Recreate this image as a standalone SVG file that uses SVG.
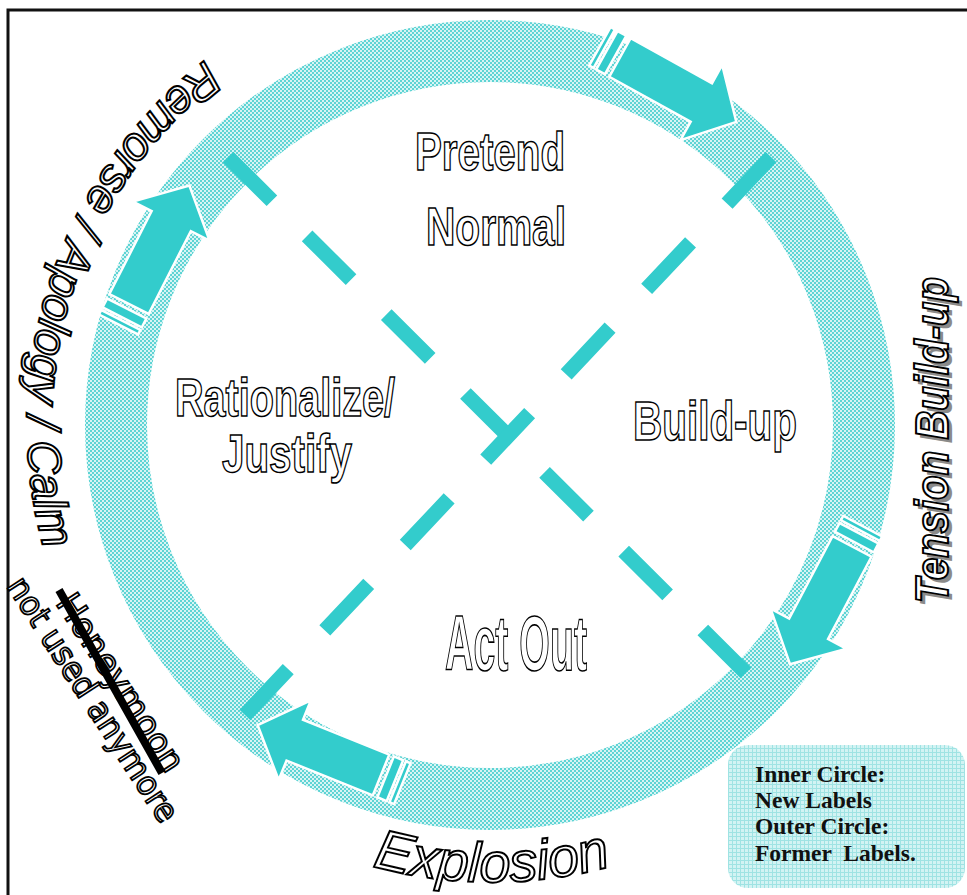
<svg xmlns="http://www.w3.org/2000/svg" xmlns:xlink="http://www.w3.org/1999/xlink" width="967" height="895" viewBox="0 0 967 895">
<defs>
<style>
.inner{font-family:"Liberation Sans",Arial,sans-serif;font-weight:bold;fill:#fff;stroke:#000;stroke-width:1.6;text-anchor:middle;}
.outer{font-family:"Liberation Sans",Arial,sans-serif;font-style:italic;fill:#fff;stroke:#000;stroke-width:2;}
.wide{font-family:"DejaVu Sans","Liberation Sans",sans-serif;fill:#fff;stroke:#000;stroke-width:1.8;}
.arr{fill:#33cccc;stroke:#fff;stroke-width:2.5;}
.dash{stroke:#33cccc;stroke-width:15;fill:none;}
.legend{font-family:"Liberation Serif","Times New Roman",serif;font-weight:bold;font-size:23.5px;fill:#111;}
</style>
<pattern id="ringPat" width="4" height="4" patternUnits="userSpaceOnUse">
<rect width="4" height="4" fill="#d8f4f4"/>
<rect width="2" height="2" fill="#5ed4d4"/>
<rect x="2" y="2" width="2" height="2" fill="#5ed4d4"/>
</pattern>
<pattern id="legPat" width="4" height="4" patternUnits="userSpaceOnUse">
<rect width="4" height="4" fill="#d2f3f3"/>
<rect width="4" height="1" fill="#9fe3e3"/>
<rect width="1" height="4" fill="#9fe3e3"/>
</pattern>
<g id="arrowShape">
<rect x="-23" y="-22" width="5" height="44"/>
<rect x="-15" y="-22" width="10" height="44"/>
<path d="M0,-22 H93 V-43 L133,0 L93,43 V22 H0 Z"/>
</g>
<path id="leftArc" d="M204.9,60.2 A463,463 0 0 0 54.9,583.3"/>
<path id="bottomArc" d="M262,820 A457,457 0 0 0 722,820"/>
</defs>
<rect width="967" height="895" fill="#fff"/>
<g id="frame"><path d="M8,895 V10 H967" fill="none" stroke="#111" stroke-width="3"/></g>
<g id="ring"><circle cx="490" cy="425" r="374" fill="none" stroke="url(#ringPat)" stroke-width="62"/></g>
<g id="connectors">
<line class="dash" x1="228" y1="157" x2="746" y2="673" stroke-dasharray="62 49.7"/>
<line class="dash" x1="771" y1="157" x2="245" y2="715" stroke-dasharray="64 53.3"/>
<use xlink:href="#arrowShape" class="arr" transform="translate(620,57.5) rotate(29)"/>
<use xlink:href="#arrowShape" class="arr" transform="translate(852,546.5) rotate(117.8)"/>
<use xlink:href="#arrowShape" class="arr" transform="translate(381,775) rotate(202)"/>
<use xlink:href="#arrowShape" class="arr" transform="translate(129,304) rotate(-63)"/>
</g>
<g id="node-pretend-normal">
<text class="inner" x="490" y="170" font-size="53" textLength="150" lengthAdjust="spacingAndGlyphs">Pretend</text>
<text class="inner" x="496" y="245" font-size="53" textLength="140" lengthAdjust="spacingAndGlyphs">Normal</text>
</g>
<g id="node-buildup">
<text class="inner" x="715" y="440" font-size="56" textLength="164" lengthAdjust="spacingAndGlyphs">Build-up</text>
</g>
<g id="node-actout">
<text class="inner" x="516" y="670" font-size="78" textLength="142" lengthAdjust="spacingAndGlyphs">Act Out</text>
</g>
<g id="node-rationalize">
<text class="inner" x="285" y="416" font-size="54" textLength="220" lengthAdjust="spacingAndGlyphs">Rationalize/</text>
<text class="inner" x="287" y="472" font-size="54" textLength="130" lengthAdjust="spacingAndGlyphs">Justify</text>
</g>
<g id="label-remorse">
<text class="outer" font-size="47"><textPath xlink:href="#leftArc" textLength="546" lengthAdjust="spacingAndGlyphs">Remorse / Apology / Calm</textPath></text>
</g>
<g id="label-explosion">
<text class="outer" font-size="56" text-anchor="middle"><textPath xlink:href="#bottomArc" startOffset="50%" textLength="242" lengthAdjust="spacingAndGlyphs">Explosion</textPath></text>
</g>
<g id="label-tension">
<text transform="translate(952,607) rotate(-90)" font-family="Liberation Sans, Arial, sans-serif" font-weight="bold" font-style="italic" font-size="46" fill="#8a8a8a" textLength="326" lengthAdjust="spacingAndGlyphs">Tension Build-up</text>
<text transform="translate(948,603) rotate(-90)" class="outer" font-weight="bold" font-size="46" textLength="326" lengthAdjust="spacingAndGlyphs">Tension Build-up</text>
</g>
<g id="label-honeymoon">
<text transform="translate(55,603) rotate(57)" class="wide" font-size="34" textLength="205" lengthAdjust="spacingAndGlyphs">Honeymoon</text>
<text transform="translate(6,586) rotate(57)" class="wide" font-size="33" textLength="285" lengthAdjust="spacingAndGlyphs">not used anymore</text>
<line x1="59" y1="590" x2="162" y2="773" stroke="#000" stroke-width="8"/>
</g>
<g id="legend">
<rect x="728" y="745" width="237" height="143" rx="20" fill="url(#legPat)"/>
<text class="legend" x="755" y="782">Inner Circle:</text>
<text class="legend" x="755" y="808">New Labels</text>
<text class="legend" x="755" y="834">Outer Circle:</text>
<text class="legend" x="755" y="861" xml:space="preserve">Former  Labels.</text>
</g>
</svg>
